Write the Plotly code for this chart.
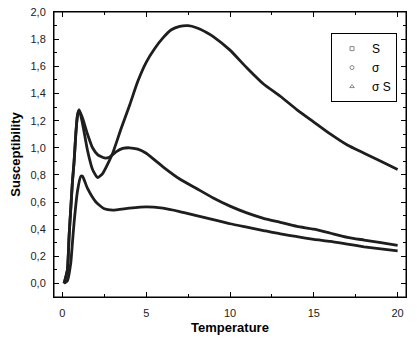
import plotly.graph_objects as go

# values
t_s = [0.1, 0.3, 0.4, 0.5, 0.6, 0.7, 0.8, 0.9, 1.0, 1.2, 1.5, 1.8, 2.1, 2.4, 2.7,
       3.0, 3.5, 4.0, 4.5, 5.0, 5.5, 6.0, 6.5, 7.0, 7.5, 8.0, 8.6, 9.0, 10.0,
       11.0, 12.0, 13.0, 14.0, 15.0, 16.0, 17.0, 18.0, 19.0, 20.0]
s_vals = [0.0, 0.1, 0.35, 0.55, 0.75, 0.9, 1.1, 1.24, 1.28, 1.18, 0.98, 0.84,
          0.78, 0.81, 0.88, 0.96, 1.14, 1.31, 1.49, 1.63, 1.73, 1.81, 1.87, 1.895,
          1.90, 1.885, 1.85, 1.82, 1.72, 1.59, 1.47, 1.38, 1.28, 1.19, 1.10, 1.02,
          0.96, 0.90, 0.84]

t_sigma = [0.1, 0.3, 0.4, 0.5, 0.6, 0.7, 0.8, 0.9, 1.0, 1.2, 1.5, 1.8, 2.1, 2.5,
           2.8, 3.2, 3.6, 4.0, 4.5, 5.0, 6.0, 7.0, 8.0, 9.0, 10.0, 11.0, 12.0,
           13.0, 14.0, 15.0, 16.0, 17.0, 18.0, 19.0, 20.0]
sigma_vals = [0.0, 0.1, 0.35, 0.55, 0.75, 0.9, 1.1, 1.24, 1.28, 1.22, 1.10, 1.00,
              0.95, 0.925, 0.93, 0.97, 0.995, 1.0, 0.99, 0.96, 0.86, 0.77, 0.70,
              0.63, 0.57, 0.52, 0.48, 0.45, 0.42, 0.40, 0.37, 0.34, 0.32, 0.30, 0.28]

t_sigma_s = [0.1, 0.3, 0.5, 0.6, 0.7, 0.9, 1.1, 1.2, 1.5, 2.0, 2.5, 3.0, 4.0, 5.0,
             6.0, 7.0, 8.0, 9.0, 10.0, 11.0, 12.0, 13.0, 14.0, 15.0, 16.0, 17.0,
             18.0, 19.0, 20.0]
sigma_s_vals = [0.0, 0.02, 0.15, 0.3, 0.45, 0.68, 0.79, 0.79, 0.70, 0.60, 0.55,
                0.54, 0.555, 0.565, 0.555, 0.53, 0.50, 0.47, 0.44, 0.415, 0.39,
                0.365, 0.345, 0.325, 0.31, 0.29, 0.27, 0.255, 0.24]

series = [
    ("S", t_s, s_vals, "square-open"),
    ("σ", t_sigma, sigma_vals, "circle-open"),
    ("σ S", t_sigma_s, sigma_s_vals, "triangle-up-open"),
]

fig = go.Figure()

for name, t, v, symbol in series:
    fig.add_trace(
        go.Scatter(
            x=t,
            y=v,
            mode="lines",
            line=dict(color="#1e1e1e", width=2.8, shape="spline", smoothing=0.5),
            showlegend=False,
        )
    )
    # legend entry: only the small grey marker, like the original
    fig.add_trace(
        go.Scatter(
            x=[None],
            y=[None],
            mode="markers",
            marker=dict(symbol=symbol, size=4, color="#888888", line=dict(width=1)),
            name=name,
        )
    )

axis_common = dict(
    showline=True,
    linecolor="black",
    linewidth=1,
    mirror="ticks",
    ticks="inside",
    ticklen=5,
    tickcolor="black",
    showgrid=False,
    zeroline=False,
    automargin=False,
    ticklabeloverflow="allow",
    tickfont=dict(size=11, color="#222222"),
    title_font=dict(size=13, color="black", family="Arial, Liberation Sans"),
)

# the page body has an 8px margin, the margins below make up for it
fig.update_layout(
    width=417,
    height=341,
    margin=dict(l=46, r=19, t=4, b=52),
    paper_bgcolor="white",
    plot_bgcolor="white",
    font=dict(family="Arial, Liberation Sans", color="black"),
    separators=",.",
    xaxis=dict(
        range=[-0.5, 20.5],
        tickvals=[0, 5, 10, 15, 20],
        minor=dict(dtick=2.5, ticks="inside", ticklen=3, tickcolor="black"),
        title=dict(text="<b>Temperature</b>", standoff=4),
        ticklabelstandoff=6,
        **axis_common,
    ),
    yaxis=dict(
        range=[-0.1, 2.001],
        tickvals=[0, 0.2, 0.4, 0.6, 0.8, 1.0, 1.2, 1.4, 1.6, 1.8, 2.0],
        tickformat=".1f",
        minor=dict(dtick=0.1, ticks="inside", ticklen=3, tickcolor="black"),
        title=dict(text="<b>Susceptibility</b>", standoff=10),
        ticklabelstandoff=5,
        **axis_common,
    ),
    legend=dict(
        x=0.787,
        y=0.926,
        xanchor="left",
        yanchor="top",
        bordercolor="black",
        borderwidth=1,
        bgcolor="white",
        font=dict(size=12),
        itemwidth=30,
        tracegroupgap=0,
    ),
    shapes=[
        dict(type="rect", xref="paper", yref="paper", x0=0, x1=1, y0=0, y1=1,
             line=dict(color="black", width=1), layer="above")
    ],
)

fig.write_html("out.html")
